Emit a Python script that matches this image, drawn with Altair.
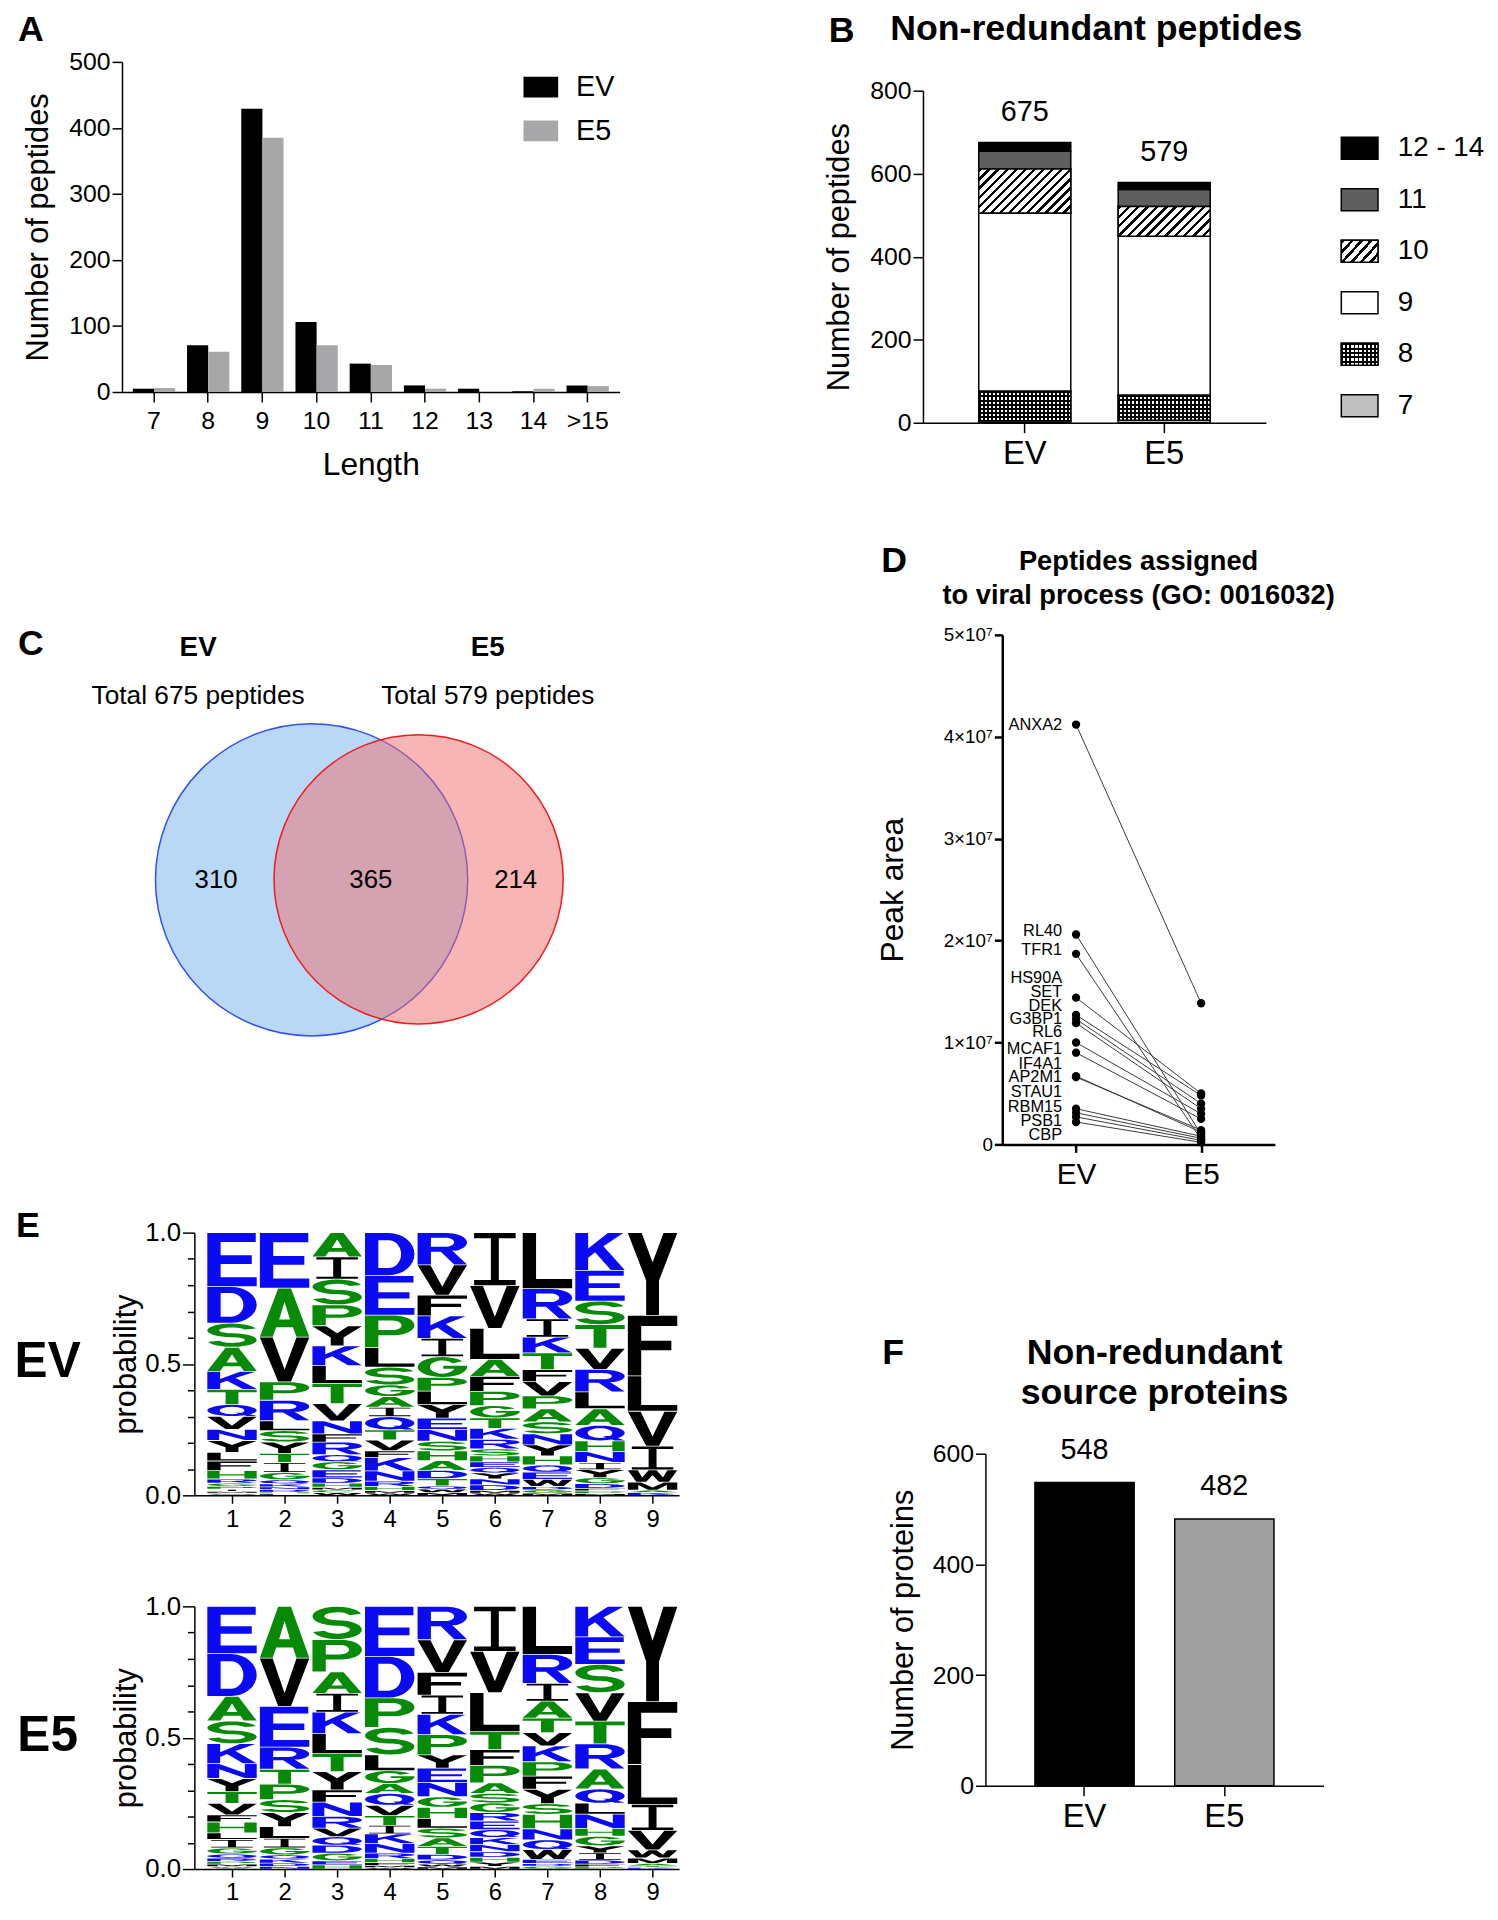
import math
import altair as alt
import pandas as pd

FONT = "Liberation Sans, Arial, DejaVu Sans"

# ------------------------------------------------------------------ data
# Panel A
lengths = ["7", "8", "9", "10", "11", "12", "13", "14", ">15"]
ev_length_counts = [5, 71, 429, 106, 43, 10, 5, 1, 10]
e5_length_counts = [6, 61, 385, 71, 41, 5, 0, 5, 9]
samples = ["EV", "E5"]

# Panel B
length_groups = ["7", "8", "9", "10", "11", "12 - 14"]
ev_group_counts = [5, 71, 429, 106, 43, 21]
e5_group_counts = [6, 60, 383, 72, 41, 17]
peptide_totals = [675, 579]

# Panel C
venn_sets = ["EV", "E5"]
venn_totals = [675, 579]
venn_region_counts = [310, 365, 214]          # EV only, shared, E5 only
venn_circle_x = [0.381, 0.596]                # diagram layout (fractions of panel)
venn_circle_y = [0.591, 0.590]
venn_label_x = [0.153, 0.735]
venn_region_x = [0.189, 0.500, 0.791]

# Panel D
proteins = ["ANXA2", "RL40", "TFR1", "HS90A", "SET", "DEK", "G3BP1", "RL6",
            "MCAF1", "IF4A1", "AP2M1", "STAU1", "RBM15", "PSB1", "CBP"]
ev_peak = [4.12, 2.06, 1.87, 1.44, 1.27, 1.23, 1.19, 1.00, 0.90, 0.67, 0.66, 0.35, 0.31, 0.27, 0.22]
e5_peak = [1.385, 0.10, 0.05, 0.50, 0.48, 0.40, 0.35, 0.30, 0.25, 0.12, 0.14, 0.08, 0.06, 0.04, 0.02]
label_peak = [4.12, 2.094, 1.908, 1.628, 1.496, 1.360, 1.228, 1.105, 0.940, 0.787, 0.659, 0.515, 0.371, 0.227, 0.095]

# Panel F
protein_totals = [548, 482]

# Panel E (letters top -> bottom, probability)
ev_logo = [
    "E.195 D.132 S.087 A.087 K.065 T.055 Q.043 V.047 N.040 Y.043 L.031 F.035 H.030 R.015 G.012 P.010 I.008 M.006 C.004 W.004",
    "E.211 A.187 V.170 P.070 R.078 L.038 S.043 Y.043 T.035 I.038 G.028 Q.015 K.012 N.010 D.010 H.006 F.006",
    "A.090 I.083 S.095 P.078 Y.075 K.073 L.066 T.075 V.064 N.049 F.030 R.047 Q.026 G.030 E.030 D.020 H.015 M.010 C.010 W.010",
    "D.160 E.147 P.121 L.073 S.066 G.043 A.040 I.035 Q.049 T.038 V.040 F.026 K.049 N.038 R.020 H.015 M.010 W.008",
    "R.116 V.109 F.075 K.081 I.066 G.075 P.049 L.049 Y.049 E.040 N.043 S.035 H.035 A.035 D.030 T.026 Q.012 W.012 M.010",
    "I.194 V.156 L.113 A.062 F.055 P.052 G.045 T.038 K.040 R.035 S.026 H.022 E.020 Q.020 Y.022 N.022 D.020 M.010 W.008",
    "L.203 R.109 I.066 K.057 T.061 F.043 V.052 P.047 A.047 S.043 N.040 Y.040 H.033 Q.026 E.026 W.026 D.012 G.012 M.008",
    "K.139 E.113 S.087 T.087 V.078 R.083 L.062 A.061 Q.057 H.040 N.040 I.026 Y.030 G.022 D.017 F.010 P.010 M.006",
    "Y.315 F.230 L.135 V.133 I.090 W.047 M.030 A.010 K.010",
]
e5_logo = [
    "E.173 D.156 A.090 S.083 K.073 N.054 Y.048 T.043 V.042 F.026 H.040 L.024 I.031 G.022 Q.015 R.012 P.010 M.008 W.006 C.004",
    "A.190 V.178 E.150 R.081 T.055 P.057 S.047 Y.052 L.043 I.035 G.026 Q.015 K.015 D.012 N.010",
    "S.121 P.118 A.078 I.069 K.078 L.073 T.066 Y.066 F.045 N.052 R.043 V.031 Q.031 D.029 G.028 E.015 H.015",
    "E.182 D.151 P.107 S.100 L.057 G.047 A.036 Q.043 V.038 T.035 I.031 K.035 N.035 R.020 H.015 F.010 M.008 W.005",
    "R.121 V.118 F.083 I.069 K.074 P.073 Y.048 E.052 N.052 G.038 H.040 L.036 S.035 A.031 T.029 D.020 Q.015 W.010 M.008",
    "I.164 V.150 L.142 T.066 F.057 P.064 A.038 S.035 G.035 R.031 E.031 Q.029 K.026 N.026 D.020 H.018 Y.015 M.010",
    "L.173 R.104 I.064 A.061 T.052 V.048 K.057 P.052 F.047 Y.052 S.038 H.052 N.040 Q.035 W.035 E.015 D.010 G.010",
    "K.112 E.100 S.104 V.104 T.083 R.092 A.073 Q.052 L.040 N.052 H.029 G.035 Y.026 I.026 D.015 F.010 P.008",
    "Y.363 F.239 L.152 I.099 V.074 W.031 M.020 A.010 T.006 K.006",
]

# ------------------------------------------------------------------ sizes
A_W, A_H = 502, 333
C_W, C_H = 502, 440
LOGO_W, LOGO_H = 489, 265
B_W, B_H = 346, 335
LEG_W, LEG_H = 37, 282
D_W, D_H = 275, 514
F_W, F_H = 341, 335

BLUE, GREEN, BLK = "#0a0af5", "#078a07", "#000000"
AA_COLOR = {}
for a in "DEKRQN":
    AA_COLOR[a] = BLUE
for a in "STAGPHC":
    AA_COLOR[a] = GREEN
for a in "VLIFYWM":
    AA_COLOR[a] = BLK


def axis_common(**kw):
    base = dict(domainColor="black", tickColor="black", labelColor="black", titleColor="black",
                domainWidth=1.5, tickWidth=1.5, grid=False, labelFont=FONT, titleFont=FONT,
                titleFontWeight="normal")
    base.update(kw)
    return alt.Axis(**base)


def text_layer(txt, x, y, size, weight="normal", align="center", baseline="middle"):
    return alt.Chart(pd.DataFrame({"t": [txt]})).mark_text(
        fontSize=size, fontWeight=weight, align=align, baseline=baseline, font=FONT, color="black"
    ).encode(text="t:N", x=alt.value(x), y=alt.value(y))


def spacer(w=1, h=1):
    return alt.Chart(pd.DataFrame({"v": [0]})).mark_point(opacity=0, size=0).encode(
        x=alt.X("v:Q", axis=None), y=alt.Y("v:Q", axis=None)
    ).properties(width=w, height=h)


def stripes(n, c1, c2, duty, x1, y1, x2, y2):
    stops = []
    for i in range(n):
        a, b, c = i / n, (i + duty) / n, (i + 1) / n
        stops += [{"offset": round(a, 5), "color": c1}, {"offset": round(b, 5), "color": c1},
                  {"offset": round(b, 5), "color": c2}, {"offset": round(c, 5), "color": c2}]
    return {"gradient": "linear", "x1": x1, "y1": y1, "x2": x2, "y2": y2, "stops": stops}


def hatch(w, h, period=6.5):
    r = w / h
    s = (r + 1) / (r * r + 1)
    n = max(1, round((w + h) / math.sqrt(2) / period))
    return stripes(n, "black", "white", 0.38, 0, 0, s * r, s)


def vstripes(w, period=4.0):
    return stripes(max(1, round(w / period)), "black", "white", 0.45, 0, 0, 1, 0)


def hstripes(h, period=4.0):
    return stripes(max(1, round(h / period)), "black", "rgba(0,0,0,0)", 0.45, 0, 0, 0, 1)


# ------------------------------------------------------------------ Panel A
dfA = pd.DataFrame({"Length": lengths * 2, "Sample": ["EV"] * 9 + ["E5"] * 9,
                    "Count": ev_length_counts + e5_length_counts})
barsA = alt.Chart(dfA).mark_bar().encode(
    x=alt.X("Length:N", sort=lengths, scale=alt.Scale(paddingInner=0.22, paddingOuter=0.2),
            axis=axis_common(title="Length", labelAngle=0, labelFontSize=25, titleFontSize=32,
                             tickSize=10, labelPadding=7, titlePadding=16)),
    xOffset=alt.XOffset("Sample:N", sort=samples, scale=alt.Scale(paddingInner=0, paddingOuter=0)),
    y=alt.Y("Count:Q", scale=alt.Scale(domain=[0, 500], nice=False),
            axis=axis_common(title="Number of peptides", values=[0, 100, 200, 300, 400, 500],
                             labelFontSize=25, titleFontSize=31, tickSize=10, titlePadding=14)),
    color=alt.Color("Sample:N", sort=samples,
                    scale=alt.Scale(domain=samples, range=["#000000", "#a7a7a9"]),
                    legend=alt.Legend(title=None, orient="none", legendX=405, legendY=8,
                                      symbolType="M-1,-0.6L1,-0.6L1,0.6L-1,0.6Z", symbolSize=1225,
                                      symbolStrokeWidth=0, symbolOpacity=1, labelFontSize=29,
                                      labelFont=FONT, labelColor="black", labelOffset=18,
                                      rowPadding=11, padding=0)),
)
panelA = alt.layer(barsA, text_layer("A", -92, -32, 36, "bold")).properties(width=A_W, height=A_H)

# ------------------------------------------------------------------ Panel B
dfB = pd.DataFrame({"Sample": ["EV"] * 6 + ["E5"] * 6, "Group": length_groups * 2,
                    "Count": ev_group_counts + e5_group_counts, "Order": list(range(6)) * 2})
group_colors = ["#c0c0c0", "#ffffff", "#ffffff", "#ffffff", "#5f5f5f", "#000000"]
xB = alt.X("Sample:N", sort=samples, scale=alt.Scale(paddingInner=0.34, paddingOuter=0.40),
           axis=axis_common(title=None, labelAngle=0, labelFontSize=33, tickSize=10, labelPadding=5))
yB_axis = axis_common(title="Number of peptides", values=[0, 200, 400, 600, 800], labelFontSize=25,
                      titleFontSize=31, tickSize=10, titlePadding=14)
yB = alt.Y("y0:Q", scale=alt.Scale(domain=[0, 800], nice=False), axis=yB_axis)
baseB = alt.Chart(dfB).transform_stack(stack="Count", groupby=["Sample"], as_=["y0", "y1"],
                                       sort=[alt.SortField(field="Order", order="ascending")])
barsB = baseB.mark_bar(stroke="black", strokeWidth=1.5).encode(
    x=xB, y=yB, y2="y1:Q",
    color=alt.Color("Group:N", scale=alt.Scale(domain=length_groups, range=group_colors), legend=None))

bw = B_W / 2.46 * 0.66
seg_h = B_H / 800.0
pattern_layers = []
for smp, cnts in (("EV", ev_group_counts), ("E5", e5_group_counts)):
    h10 = cnts[3] * seg_h
    h8 = cnts[1] * seg_h
    flt10 = f"datum.Group == '10' && datum.Sample == '{smp}'"
    flt8 = f"datum.Group == '8' && datum.Sample == '{smp}'"
    pattern_layers.append(baseB.transform_filter(flt10).mark_bar(
        fill=hatch(bw, h10), stroke="black", strokeWidth=1.5).encode(x=xB, y=yB, y2="y1:Q"))
    pattern_layers.append(baseB.transform_filter(flt8).mark_bar(
        fill=vstripes(bw), strokeWidth=0).encode(x=xB, y=yB, y2="y1:Q"))
    pattern_layers.append(baseB.transform_filter(flt8).mark_bar(
        fill=hstripes(h8), stroke="black", strokeWidth=1.5).encode(x=xB, y=yB, y2="y1:Q"))

dfBt = pd.DataFrame({"Sample": samples, "y0": peptide_totals})
totB = alt.Chart(dfBt).mark_text(fontSize=29, baseline="bottom", dy=-16, font=FONT, color="black").encode(
    x=xB, y=alt.Y("y0:Q", scale=alt.Scale(domain=[0, 800], nice=False), axis=yB_axis), text="y0:Q")
panelB = alt.layer(barsB, *pattern_layers, totB,
                   text_layer("B", -82, -60, 36, "bold"),
                   text_layer("Non-redundant peptides", -33, -62, 36, "bold", align="left")
                   ).properties(width=B_W, height=B_H)

# legend of panel B
legend_order = list(reversed(length_groups))
dfL = pd.DataFrame({"Group": legend_order})
yL = alt.Y("Group:N", sort=legend_order, scale=alt.Scale(paddingInner=0.574, paddingOuter=0), axis=None)
legSw = alt.Chart(dfL).mark_rect(stroke="black", strokeWidth=1.5).encode(
    y=yL, x=alt.value(0), x2=alt.value(LEG_W),
    color=alt.Color("Group:N", scale=alt.Scale(domain=length_groups, range=group_colors), legend=None))
sw_h = LEG_H / 6 * 0.426
legHatch = alt.Chart(dfL).transform_filter("datum.Group == '10'").mark_rect(
    fill=hatch(LEG_W, sw_h), stroke="black", strokeWidth=1.5).encode(y=yL, x=alt.value(0), x2=alt.value(LEG_W))
legCk1 = alt.Chart(dfL).transform_filter("datum.Group == '8'").mark_rect(
    fill=vstripes(LEG_W), strokeWidth=0).encode(y=yL, x=alt.value(0), x2=alt.value(LEG_W))
legCk2 = alt.Chart(dfL).transform_filter("datum.Group == '8'").mark_rect(
    fill=hstripes(sw_h), stroke="black", strokeWidth=1.5).encode(y=yL, x=alt.value(0), x2=alt.value(LEG_W))
legTxt = alt.Chart(dfL).mark_text(align="left", baseline="middle", fontSize=28, font=FONT, color="black").encode(
    y=yL, x=alt.value(LEG_W + 20), text="Group:N")
legendB = alt.layer(legSw, legHatch, legCk1, legCk2, legTxt).properties(width=LEG_W, height=LEG_H)

# ------------------------------------------------------------------ Panel C (Venn)
dfSets = pd.DataFrame({"set": venn_sets, "total": venn_totals, "cx": venn_circle_x,
                       "cy": venn_circle_y, "lx": venn_label_x})
dfReg = pd.DataFrame({"count": venn_region_counts, "rx": venn_region_x, "ry": [0.591] * 3})
xC = lambda f: alt.X(f, scale=alt.Scale(domain=[0, 1], nice=False, zero=False), axis=None)
yC = lambda f: alt.Y(f, scale=alt.Scale(domain=[0, 1], nice=False, zero=False, reverse=True), axis=None)
sizeC = alt.Size("total:Q", scale=alt.Scale(domain=[0, 675], range=[0, 315 ** 2]), legend=None)
circEV = alt.Chart(dfSets).transform_filter("datum.set == 'EV'").mark_point(
    shape="circle", filled=True, fill="#b9d8f5", stroke="#3050f0", strokeWidth=1.5, opacity=1).encode(
    x=xC("cx:Q"), y=yC("cy:Q"), size=sizeC)
circE5 = alt.Chart(dfSets).transform_filter("datum.set == 'E5'").mark_point(
    shape="circle", filled=True, fill="#ef6b6b", fillOpacity=0.5, stroke="#ee1c1c", strokeWidth=1.5,
    opacity=1).encode(x=xC("cx:Q"), y=yC("cy:Q"), size=sizeC)
setTitles = alt.Chart(dfSets).mark_text(fontSize=28, fontWeight="bold", font=FONT, color="black").encode(
    x=xC("lx:Q"), y=alt.value(26), text="set:N")
setTotals = alt.Chart(dfSets).transform_calculate(lab="'Total ' + datum.total + ' peptides'").mark_text(
    fontSize=26.5, font=FONT, color="black").encode(x=xC("lx:Q"), y=alt.value(75), text="lab:N")
regTxt = alt.Chart(dfReg).mark_text(fontSize=26, font=FONT, color="black").encode(
    x=xC("rx:Q"), y=yC("ry:Q"), text="count:Q")
panelC = alt.layer(circEV, circE5, setTitles, setTotals, regTxt,
                   text_layer("C", -92, 22, 36, "bold")).properties(width=C_W, height=C_H)

# ------------------------------------------------------------------ Panel D
dfD = pd.DataFrame({"protein": proteins * 2, "Sample": ["EV"] * 15 + ["E5"] * 15,
                    "area": [v * 1e7 for v in ev_peak + e5_peak]})
dfDl = pd.DataFrame({"protein": proteins, "Sample": ["EV"] * 15, "area": [v * 1e7 for v in label_peak]})
xD = alt.X("Sample:N", sort=samples, scale=alt.Scale(type="point", padding=0.59),
           axis=axis_common(title=None, labelAngle=0, labelFontSize=30, tickSize=8, labelPadding=7,
                            domainWidth=2.5, tickWidth=2.5))
yD = alt.Y("area:Q", scale=alt.Scale(domain=[0, 5e7], nice=False),
           axis=axis_common(title="Peak area", values=[0, 1e7, 2e7, 3e7, 4e7, 5e7],
                            labelExpr="datum.value == 0 ? '0' : format(datum.value / 1e7, 'd') + '×10⁷'",
                            labelFontSize=19, titleFontSize=32, tickSize=8, labelPadding=2, titlePadding=34,
                            domainWidth=2.5, tickWidth=2.5))
linesD = alt.Chart(dfD).mark_line(color="#3a3a3a", strokeWidth=1).encode(x=xD, y=yD, detail="protein:N")
ptsD = alt.Chart(dfD).mark_circle(size=70, color="black", opacity=1).encode(x=xD, y=yD)
labD = alt.Chart(dfDl).mark_text(align="right", baseline="middle", fontSize=16.5, dx=-14, font=FONT,
                                 color="black").encode(x=xD, y=yD, text="protein:N")
panelD = alt.layer(linesD, ptsD, labD,
                   text_layer("D", -109, -74, 36, "bold"),
                   text_layer("Peptides assigned", D_W / 2, -73, 27.5, "bold"),
                   text_layer("to viral process (GO: 0016032)", D_W / 2, -39, 27.5, "bold")
                   ).properties(width=D_W, height=D_H)

# ------------------------------------------------------------------ Panel F
dfF = pd.DataFrame({"Sample": samples, "Count": protein_totals})
xF = alt.X("Sample:N", sort=samples, scale=alt.Scale(paddingInner=0.29, paddingOuter=0.354),
           axis=axis_common(title=None, labelAngle=0, labelFontSize=33, tickSize=10, labelPadding=5))
yF = alt.Y("Count:Q", scale=alt.Scale(domain=[0, 600], nice=False),
           axis=axis_common(title="Number of proteins", values=[0, 200, 400, 600], labelFontSize=25,
                            titleFontSize=31, tickSize=10, titlePadding=13))
barsF = alt.Chart(dfF).mark_bar(stroke="black", strokeWidth=1.5).encode(
    x=xF, y=yF, color=alt.Color("Sample:N", scale=alt.Scale(domain=samples, range=["#000000", "#a0a0a0"]),
                                legend=None))
txtF = alt.Chart(dfF).mark_text(fontSize=29, baseline="bottom", dy=-18, font=FONT, color="black").encode(
    x=xF, y=yF, text="Count:Q")
panelF = alt.layer(barsF, txtF,
                   text_layer("F", -93, -101, 36, "bold"),
                   text_layer("Non-redundant", F_W / 2, -101, 36, "bold"),
                   text_layer("source proteins", F_W / 2, -61, 36, "bold")
                   ).properties(width=F_W, height=F_H)


# ------------------------------------------------------------------ Panel E (sequence logos)
def arc(cx, cy, rx, ry, a0, a1, n=16):
    pts = []
    for i in range(n + 1):
        t = math.radians(a0 + (a1 - a0) * i / n)
        pts.append((cx + rx * math.cos(t), cy + ry * math.sin(t)))
    return pts


_sA = arc(.5, .7075, .5, .2925, 15, 270, 20) + arc(.5, .2925, .26, .1225, 90, -165, 20)
_sB = arc(.5, .7075, .26, .1225, 15, 270, 20) + arc(.5, .2925, .5, .2925, 90, -165, 20)
GLYPHS = {
    "E": [[(0, 0), (1, 0), (1, .17), (.27, .17), (.27, .42), (.9, .42), (.9, .58), (.27, .58), (.27, .83),
           (.98, .83), (.98, 1), (0, 1)]],
    "F": [[(0, 0), (.27, 0), (.27, .42), (.88, .42), (.88, .58), (.27, .58), (.27, .83), (1, .83), (1, 1), (0, 1)]],
    "L": [[(0, 0), (1, 0), (1, .17), (.27, .17), (.27, 1), (0, 1)]],
    "T": [[(.37, 0), (.63, 0), (.63, .83), (1, .83), (1, 1), (0, 1), (0, .83), (.37, .83)]],
    "I": [[(.08, 0), (.92, 0), (.92, .1), (.58, .1), (.58, .9), (.92, .9), (.92, 1), (.08, 1), (.08, .9),
           (.42, .9), (.42, .1), (.08, .1)]],
    "H": [[(0, 0), (.25, 0), (.25, .42), (.75, .42), (.75, 0), (1, 0), (1, 1), (.75, 1), (.75, .58),
           (.25, .58), (.25, 1), (0, 1)]],
    "V": [[(.37, 0), (.63, 0), (1, 1), (.74, 1), (.5, .27), (.26, 1), (0, 1)]],
    "Y": [[(.37, 0), (.63, 0), (.63, .42), (1, 1), (.72, 1), (.5, .64), (.28, 1), (0, 1), (.37, .42)]],
    "A": [[(0, 0), (.26, 0), (.33, .2), (.67, .2), (.74, 0), (1, 0), (.63, 1), (.37, 1)],
          [(.39, .36), (.5, .72), (.61, .36)]],
    "K": [[(0, 0), (.26, 0), (.26, .33), (.4, .48), (.72, 0), (1, 0), (.57, .64), (.97, 1), (.66, 1),
           (.26, .58), (.26, 1), (0, 1)]],
    "N": [[(0, 0), (.24, 0), (.24, .64), (.76, 0), (1, 0), (1, 1), (.76, 1), (.76, .36), (.24, 1), (0, 1)]],
    "M": [[(0, 0), (.21, 0), (.21, .66), (.41, 0), (.59, 0), (.79, .66), (.79, 0), (1, 0), (1, 1), (.73, 1),
           (.5, .3), (.27, 1), (0, 1)]],
    "W": [[(.17, 0), (.37, 0), (.5, .56), (.63, 0), (.83, 0), (1, 1), (.8, 1), (.71, .38), (.58, 1),
           (.42, 1), (.29, .38), (.2, 1), (0, 1)]],
    "D": [[(0, 0), (.48, 0)] + arc(.48, .5, .52, .5, -90, 90) + [(0, 1)],
          [(.27, .17), (.27, .83), (.48, .83)] + arc(.48, .5, .25, .33, 90, -90)],
    "P": [[(0, 0), (.27, 0), (.27, .38), (.58, .38)] + arc(.58, .69, .42, .31, -90, 90) + [(0, 1)],
          [(.27, .54), (.27, .84), (.56, .84)] + arc(.56, .69, .18, .15, 90, -90)],
    "R": [[(0, 0), (.27, 0), (.27, .4), (.47, .4), (.74, 0), (1, 0), (.7, .44)]
          + arc(.58, .7, .42, .3, -62, 90) + [(0, 1)],
          [(.27, .56), (.27, .85), (.56, .85)] + arc(.56, .705, .18, .145, 90, -90)],
    "C": [arc(.5, .5, .5, .5, 40, 320, 24) + arc(.5, .5, .25, .33, 320, 40, 24)],
    "G": [arc(.5, .5, .5, .5, 35, 350, 24) + [(1, .41), (1, .56), (.52, .56), (.52, .42), (.75, .42)]
          + arc(.5, .5, .25, .33, 345, 35, 24)],
    "S": [_sA + _sB[::-1]],
    "Q": [arc(.5, .5, .5, .5, 0, 360, 32), arc(.5, .5, .25, .33, 360, 0, 32),
          [(.8, 0), (1, 0), (.74, .3), (.56, .3)]],
}


def glyph_path(letter, w, h):
    parts = []
    for poly in GLYPHS[letter]:
        pts = [f"{(x - 0.5) * w:.2f},{(0.5 - y) * h:.2f}" for x, y in poly]
        parts.append("M" + "L".join(pts) + "Z")
    return "".join(parts)


X_DOM = [0.284, 9.505]
STEP_PX = LOGO_W / (X_DOM[1] - X_DOM[0])
LETTER_W = STEP_PX * 0.94


def logo_frame(columns):
    rows = []
    for i, col in enumerate(columns):
        items = [(tok[0], float(tok[1:])) for tok in col.split()]
        tot = sum(p for _, p in items)
        top = 1.0
        for letter, p in items:
            p = p / tot
            hpx = max(p * LOGO_H - 0.8, 0.2)
            rows.append({"pos": i + 1, "y": top - p / 2, "letter": letter,
                         "shape": glyph_path(letter, LETTER_W, hpx), "col": AA_COLOR[letter]})
            top -= p
    return pd.DataFrame(rows)


def logo_chart(columns, big_label, extra=None):
    xL = alt.X("pos:Q", scale=alt.Scale(domain=X_DOM, nice=False, zero=False),
               axis=axis_common(title=None, values=list(range(1, 10)), format="d", labelFontSize=24,
                                tickSize=8, labelPadding=4))
    yLg = alt.Y("y:Q", scale=alt.Scale(domain=[0, 1], nice=False, zero=False),
                axis=axis_common(title="probability", values=[round(i * 0.1, 1) for i in range(11)],
                                 labelExpr="abs(datum.value * 2 - round(datum.value * 2)) < 0.001 ? format(datum.value, '.1f') : ''",
                                 tickSize={"condition": {"test": "abs(datum.value * 2 - round(datum.value * 2)) < 0.001",
                                                         "value": 12}, "value": 7},
                                 labelFontSize=26, labelPadding=2, titleFontSize=31, titlePadding=2))
    letters = alt.Chart(logo_frame(columns)).mark_point(filled=True, size=4, opacity=1, strokeWidth=0).encode(
        x=xL, y=yLg, shape=alt.Shape("shape:N", scale=None), color=alt.Color("col:N", scale=None))
    layers = [letters, text_layer(big_label, -148, 131, 50, "bold")]
    if extra is not None:
        layers.append(extra)
    return alt.layer(*layers).properties(width=LOGO_W, height=LOGO_H)


logoEV = logo_chart(ev_logo, "EV", text_layer("E", -168, -7, 36, "bold"))
logoE5 = logo_chart(e5_logo, "E5")

# ------------------------------------------------------------------ layout
# (with "flush" bounds a nested concat group counts as zero-size, spacers carry its extent)
IND = dict(color="independent", shape="independent", size="independent")

row_ev = alt.hconcat(spacer(73, 1), logoEV, spacing=0, bounds="flush").resolve_scale(**IND)
row_e5 = alt.hconcat(spacer(73, 1), logoE5, spacing=0, bounds="flush").resolve_scale(**IND)
left = alt.vconcat(
    panelA, spacer(1, 232), panelC, spacer(1, 176), row_ev, spacer(1, LOGO_H + 112), row_e5,
    spacing=0, bounds="flush").resolve_scale(**IND)

leg_col = alt.vconcat(spacer(1, 47), legendB, spacing=0, bounds="flush").resolve_scale(**IND)
row_b = alt.hconcat(panelB, spacer(76, 1), leg_col, spacing=0, bounds="flush").resolve_scale(**IND)
row_d = alt.hconcat(spacer(80, 1), panelD, spacing=0, bounds="flush").resolve_scale(**IND)
row_f = alt.hconcat(spacer(63, 1), panelF, spacing=0, bounds="flush").resolve_scale(**IND)
right = alt.vconcat(
    spacer(1, 29), row_b, spacer(1, B_H + 214), row_d, spacer(1, D_H + 312), row_f,
    spacing=0, bounds="flush").resolve_scale(**IND)

chart = alt.hconcat(left, right, spacing=808, bounds="flush").resolve_scale(**IND).configure(
    font=FONT, padding={"left": 6, "top": -5, "right": 5, "bottom": 5}
).configure_view(stroke=None).configure_text(font=FONT)

chart.save("out.html", embed_options={"renderer": "svg", "actions": False})
